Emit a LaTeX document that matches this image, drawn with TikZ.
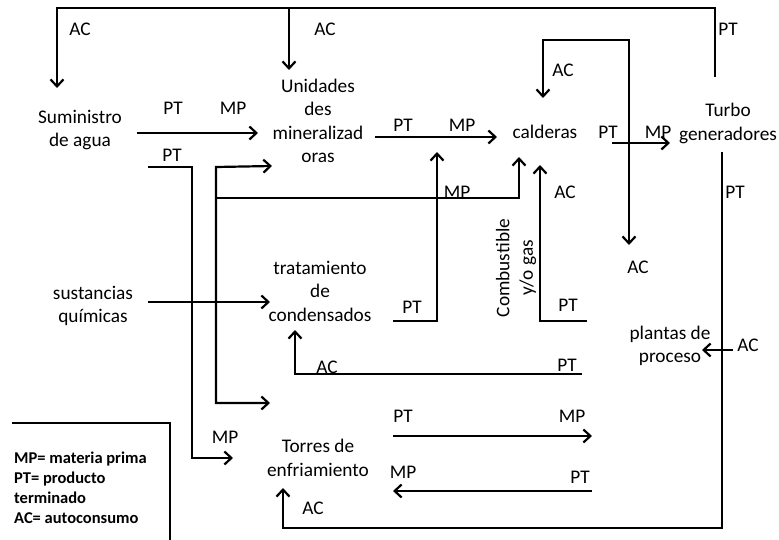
\documentclass[tikz,border=0pt]{standalone}
\usepackage{fontspec}
\setmainfont{Carlito}
\usetikzlibrary{arrows.meta}
\begin{document}
\begin{tikzpicture}[x=1pt,y=-1pt,
  lbl/.style={font=\fontsize{19.3}{23.5}\selectfont, inner sep=0pt, align=center},
  legend/.style={font=\bfseries\fontsize{16.5}{20}\selectfont, inner sep=0pt, align=left},
  flow/.style={line width=2.2pt, line join=miter},
  arr/.style={flow, -{Straight Barb[length=7pt,width=13pt,line width=2.2pt]}},
  darr/.style={flow, {Straight Barb[length=7pt,width=13pt,line width=2.2pt]}-{Straight Barb[length=7pt,width=13pt,line width=2.2pt]}}]
\useasboundingbox (0,0) rectangle (779,540);

% main text nodes
\node[lbl] (sum) at (80,130) {Suministro\\de agua};
\node[lbl] (uni) at (318,121) {Unidades\\des\\mineralizad\\oras};
\node[lbl] (cal) at (545,132) {calderas};
\node[lbl] (tur) at (728,123.5) {Turbo\\generadores};
\node[lbl] (sus) at (93,306) {sustancias\\químicas};
\node[lbl] (tra) at (320,291) {tratamiento\\de\\condensados};
\node[lbl, rotate=90] (com) at (516,268) {Combustible\\y/o gas};
\node[lbl] (pla) at (670,346) {plantas de\\proceso};
\node[lbl] (tor) at (318,458) {Torres de\\enfriamiento};

% small labels
\node[lbl] (l1) at (80,29) {AC};
\node[lbl] (l2) at (325,29) {AC};
\node[lbl] (l3) at (728,29) {PT};
\node[lbl] (l4) at (173,108) {PT};
\node[lbl] (l5) at (233,108) {MP};
\node[lbl] (l6) at (172,155) {PT};
\node[lbl] (l7) at (403,125) {PT};
\node[lbl] (l8) at (462,125) {MP};
\node[lbl] (l9) at (563,70) {AC};
\node[lbl] (l10) at (608,132) {PT};
\node[lbl] (l11) at (658,132) {MP};
\node[lbl] (l12) at (457,192) {MP};
\node[lbl] (l13) at (565,192) {AC};
\node[lbl] (l14) at (735,192) {PT};
\node[lbl] (l15) at (638,267) {AC};
\node[lbl] (l16) at (412,307) {PT};
\node[lbl] (l17) at (568,305) {PT};
\node[lbl] (l18) at (748,345) {AC};
\node[lbl] (l19) at (327,367) {AC};
\node[lbl] (l20) at (567,365) {PT};
\node[lbl] (l21) at (403,416) {PT};
\node[lbl] (l22) at (572,416) {MP};
\node[lbl] (l23) at (225,437) {MP};
\node[lbl] (l24) at (403,472) {MP};
\node[lbl] (l25) at (580,477) {PT};
\node[lbl] (l26) at (313,508) {AC};

% legend
\node[legend, anchor=west] (leg) at (14,488) {MP= materia prima\\PT= producto\\terminado\\AC= autoconsumo};
\coordinate (lgA) at (12,423);
\coordinate (lgB) at (170,423);
\coordinate (lgC) at (170,540);
\draw[flow] (lgA) -- (lgB) -- (lgC);

% connectors
\coordinate (tA) at (715,77);
\coordinate (tB) at (715,8);
\coordinate (tC) at (57,8);
\coordinate (tD) at (57,88);
\draw[arr] (tA) -- (tB) -- (tC) -- (tD);
\coordinate (uA) at (289,8);
\coordinate (uB) at (289,70);
\draw[arr] (uA) -- (uB);

\coordinate (sA) at (137,133);
\coordinate (sB) at (258,133);
\draw[arr] (sA) -- (sB);

\coordinate (pA) at (148,167);
\coordinate (pB) at (192,167);
\coordinate (pC) at (192,458);
\coordinate (pD) at (233,458);
\draw[arr] (pA) -- (pB) -- (pC) -- (pD);

\coordinate (qA) at (216,403);
\coordinate (qB) at (270,403);
\coordinate (qC) at (216,167);
\coordinate (qD) at (272,166);
\draw[darr] (qB) -- (qA) -- (qC) -- (qD);

\coordinate (mA) at (216,198);
\coordinate (mB) at (519,198);
\coordinate (mC) at (519,157);
\draw[arr] (mA) -- (mB) -- (mC);

\coordinate (cA) at (148,302);
\coordinate (cB) at (270,302);
\draw[arr] (cA) -- (cB);

\coordinate (dA) at (375,137);
\coordinate (dB) at (497,137);
\draw[arr] (dA) -- (dB);

\coordinate (eA) at (393,321);
\coordinate (eB) at (437,321);
\coordinate (eC) at (437,152);
\draw[arr] (eA) -- (eB) -- (eC);

\coordinate (fA) at (587,321);
\coordinate (fB) at (540,321);
\coordinate (fC) at (540,165);
\draw[arr] (fA) -- (fB) -- (fC);

\coordinate (gA) at (543,98);
\coordinate (gB) at (543,40);
\coordinate (gC) at (629,40);
\coordinate (gD) at (629,245);
\draw[darr] (gA) -- (gB) -- (gC) -- (gD);

\coordinate (hA) at (612,143);
\coordinate (hB) at (670,143);
\draw[arr] (hA) -- (hB);

\coordinate (iA) at (722,152);
\coordinate (iB) at (722,528);
\coordinate (iC) at (283,528);
\coordinate (iD) at (283,488);
\draw[arr] (iA) -- (iB) -- (iC) -- (iD);

\coordinate (jA) at (733,350);
\coordinate (jB) at (702,350);
\draw[arr] (jA) -- (jB);

\coordinate (kA) at (582,374);
\coordinate (kB) at (295,374);
\coordinate (kC) at (295,330);
\draw[arr] (kA) -- (kB) -- (kC);

\coordinate (nA) at (393,436);
\coordinate (nB) at (592,436);
\draw[arr] (nA) -- (nB);

\coordinate (oA) at (592,491);
\coordinate (oB) at (393,491);
\draw[arr] (oA) -- (oB);
\end{tikzpicture}
\end{document}
